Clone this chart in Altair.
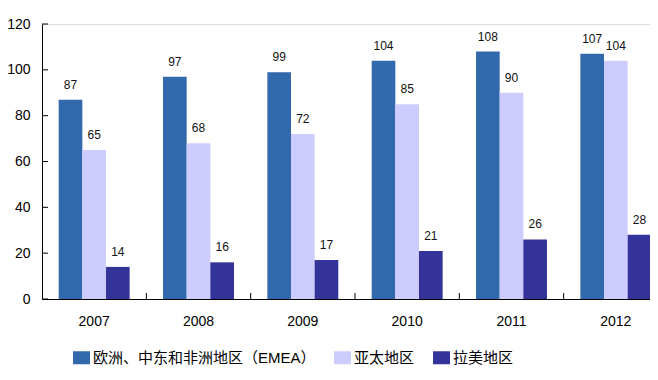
import altair as alt
import pandas as pd

years = ["2007", "2008", "2009", "2010", "2011", "2012"]
series = ["欧洲、中东和非洲地区（EMEA）", "亚太地区", "拉美地区"]
emea = [87, 97, 99, 104, 108, 107]
apac = [65, 68, 72, 85, 90, 104]
latam = [14, 16, 17, 21, 26, 28]
colors = ["#3169AC", "#CCCCFF", "#333399"]
y_ticks = [0, 20, 40, 60, 80, 100, 120]

rows = []
for vals, s in zip([emea, apac, latam], series):
    for yr, v in zip(years, vals):
        rows.append({"year": yr, "series": s, "value": v})
df = pd.DataFrame(rows)

W, H = 608, 275
RANGE = 626
step = RANGE / 6

FONT = "Liberation Sans"
LFONT = "'Liberation Sans', 'Noto Sans CJK SC'"

xscale = alt.Scale(domain=years, range=[0, RANGE], paddingInner=0.32, paddingOuter=0.16)
yscale = alt.Scale(domain=[0, 120], nice=False)
offscale = alt.Scale(paddingInner=0, paddingOuter=0)

x_enc = alt.X("year:N", scale=xscale, sort=years,
              axis=alt.Axis(title=None, labelAngle=0, ticks=False, tickSize=0,
                            labelFontSize=14, labelFont=FONT, labelPadding=15,
                            labelColor="#000000", domainColor="#000000", domainWidth=1))
y_enc = alt.Y("value:Q", scale=yscale,
              axis=alt.Axis(title=None, values=y_ticks, ticks=False, tickSize=0, grid=False,
                            labelFontSize=14, labelFont=FONT, labelPadding=12,
                            labelColor="#000000", domainColor="#000000", domainWidth=1))
off_enc = alt.XOffset("series:N", sort=series, scale=offscale)

bars = alt.Chart(df).mark_bar().encode(
    x=x_enc,
    xOffset=off_enc,
    y=y_enc,
    color=alt.Color("series:N", sort=series,
                    scale=alt.Scale(domain=series, range=colors),
                    legend=alt.Legend(title=None, orient="none", legendX=31, legendY=325,
                                      direction="horizontal", columns=3,
                                      symbolType="M-1,-0.765H1V0.765H-1Z", symbolSize=289,
                                      symbolStrokeWidth=0, symbolOpacity=1,
                                      labelFont=LFONT, labelFontSize=15, labelColor="#000000",
                                      labelLimit=400, labelOffset=3, columnPadding=18,
                                      padding=0)),
)

labels = alt.Chart(df).mark_text(dy=-8, baseline="bottom", fontSize=12, font=FONT,
                                 color="#111111").encode(
    x=alt.X("year:N", sort=years),
    xOffset=alt.XOffset("series:N", sort=series),
    y=alt.Y("value:Q"),
    text=alt.Text("value:Q"),
)

ytick_df = pd.DataFrame({"v": y_ticks})
yticks = alt.Chart(ytick_df).mark_rule(color="#000000", strokeWidth=1).encode(
    y=alt.Y("v:Q"),
    x=alt.value(0),
    x2=alt.value(6),
)

xtick_df = pd.DataFrame({"year": years[1:]})
xticks = alt.Chart(xtick_df).mark_rule(color="#000000", strokeWidth=1, xOffset=-step / 2).encode(
    x=alt.X("year:N", sort=years),
    y=alt.value(H - 6),
    y2=alt.value(H),
)

chart = alt.layer(bars, labels, yticks, xticks).properties(
    width=W, height=H,
    autosize=alt.AutoSizeParams(type="none"),
    padding={"left": 34, "top": 16, "right": 0, "bottom": 70},
).configure_view(stroke=None).configure(background="#ffffff")

chart.save("out.html", embed_options={"renderer": "svg", "actions": False})
